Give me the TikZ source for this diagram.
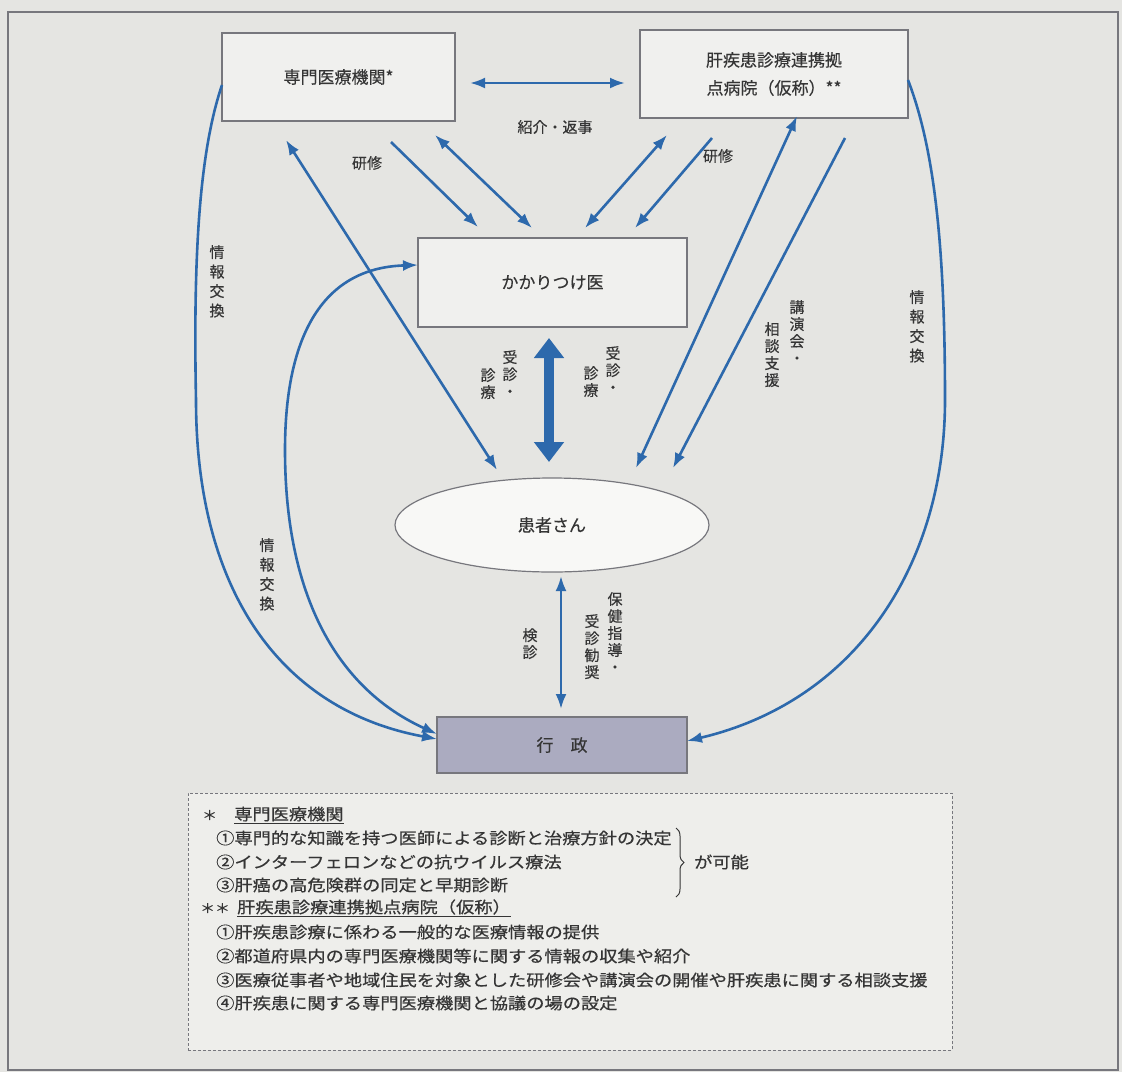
\documentclass[tikz,border=0pt]{standalone}
\usepackage{fontspec}
\newfontfamily\jp{Noto Sans CJK JP}[FakeBold=0.3]
\newfontfamily\jpw{Noto Sans CJK JP}[FakeStretch=1.14,FakeBold=0.5]
\usetikzlibrary{arrows.meta,shapes.geometric,decorations.pathreplacing}
\definecolor{bg}{HTML}{E5E5E2}
\definecolor{boxfill}{HTML}{F0F0EE}
\definecolor{ellfill}{HTML}{F8F8F6}
\definecolor{legfill}{HTML}{EEEEEB}
\definecolor{arrowblue}{HTML}{2D69AC}
\definecolor{edge}{HTML}{77777D}
\definecolor{txt}{HTML}{353535}
\definecolor{gyosei}{HTML}{ABABC0}
\begin{document}
\begin{tikzpicture}[x=1pt,y=-1pt,
  >={Latex[length=15pt,width=11pt]},
  box/.style={draw=edge, line width=1.2pt, fill=boxfill, text=txt,
    font=\jp\fontsize{17}{28}\selectfont, align=center, inner sep=0pt},
  conn/.style={draw=arrowblue, line width=2.6pt, ->},
  dconn/.style={draw=arrowblue, line width=2.6pt, <->},
  bigarrow/.style={draw=arrowblue, line width=10pt,
    {Triangle[length=20pt,width=29pt]}-{Triangle[length=20pt,width=29pt]}},
  lbl/.style={text=txt, font=\jp\fontsize{15}{17}\selectfont, align=center, inner sep=0pt},
  vlbl/.style={lbl, anchor=north},
  vlblw/.style={vlbl, font=\jp\fontsize{15}{19.5}\selectfont},
  leg/.style={text=txt, font=\jpw\fontsize{16}{24}\selectfont, anchor=west, inner sep=0pt},
]
\useasboundingbox (0,0) rectangle (1122,1072);
\fill[bg] (0,0) rectangle (1122,1072);
\draw[edge, line width=1.2pt] (8,12) rectangle (1118,1070);

% main nodes
\node[box, minimum width=233pt, minimum height=88pt] (senmon) at (338.5,77) {専門医療機関*};
\node[box, minimum width=268pt, minimum height=88pt] (kyoten) at (774,74) {肝疾患診療連携拠\\点病院（仮称）**};
\node[box, minimum width=269pt, minimum height=89pt] (kakari) at (552.5,282.5) {かかりつけ医};
\node[ellipse, draw=edge, line width=1.2pt, fill=ellfill, text=txt, inner sep=0pt,
  font=\jp\fontsize{17}{20}\selectfont, minimum width=314pt, minimum height=94pt] (kanja) at (552,525) {患者さん};
\node[box, fill=gyosei, minimum width=250pt, minimum height=56pt] (gyosei) at (562,745) {行\hspace{1em}政};

% connector end points
\coordinate (hA) at (470,83);  \coordinate (hB) at (625,83);
\coordinate (a1s) at (391,142); \coordinate (a1e) at (478,227);
\coordinate (a2s) at (435,135); \coordinate (a2e) at (532,228);
\coordinate (a3s) at (667,135); \coordinate (a3e) at (585,228);
\coordinate (a4s) at (712,138); \coordinate (a4e) at (635,228);
\coordinate (b1s) at (286,140); \coordinate (b1e) at (497,470);
\coordinate (b2s) at (797,116); \coordinate (b2e) at (636,468);
\coordinate (b3s) at (845,138); \coordinate (b3e) at (673,468);
\coordinate (tA) at (549,338); \coordinate (tB) at (549,462);
\coordinate (vA) at (561,576); \coordinate (vB) at (561,709);
\coordinate (cL) at (222,85);  \coordinate (cLe) at (437,739);
\coordinate (cR) at (908,80);  \coordinate (cRe) at (687,741);
\coordinate (cI) at (418,265); \coordinate (cIe) at (437,734);

\draw[dconn] (hA) -- (hB);
\draw[conn] (a1s) -- (a1e);
\draw[dconn] (a2s) -- (a2e);
\draw[dconn] (a3s) -- (a3e);
\draw[conn] (a4s) -- (a4e);
\draw[dconn] (b1s) -- (b1e);
\draw[dconn] (b2s) -- (b2e);
\draw[conn] (b3s) -- (b3e);
\draw[bigarrow] (tA) -- (tB);
\draw[dconn] (vA) -- (vB);

% curved information-exchange connectors
\draw[conn] (cL) .. controls (200,150) and (193,250) .. (196,400)
  .. controls (196,590) and (280,710) .. (cLe);
\draw[conn] (cR) .. controls (935,150) and (945,250) .. (945,400)
  .. controls (945,560) and (860,700) .. (cRe);
\draw[dconn] (cIe) .. controls (340,690) and (285,600) .. (285,450)
  .. controls (285,340) and (320,268) .. (cI);

% labels
\node[lbl] (shokai) at (555,127) {紹介・返事};
\node[lbl] (kenshu1) at (367,163) {研修};
\node[lbl] (kenshu2) at (718,156) {研修};
\node[vlbl] (jA1) at (510,350) {受\\診\\・};
\node[vlbl] (jA2) at (488,368) {診\\療};
\node[vlbl] (jB1) at (613,346) {受\\診\\・};
\node[vlbl] (jB2) at (591,366) {診\\療};
\node[vlbl] (koen1) at (797,300) {講\\演\\会\\・};
\node[vlbl] (koen2) at (772,322) {相\\談\\支\\援};
\node[vlblw] (joho1) at (217,245) {情\\報\\交\\換};
\node[vlblw] (joho2) at (917,290) {情\\報\\交\\換};
\node[vlblw] (joho3) at (267,538) {情\\報\\交\\換};
\node[vlbl] (kenshin) at (530,628) {検\\診};
\node[vlbl] (hoken1) at (615,592) {保\\健\\指\\導\\・};
\node[vlbl] (hoken2) at (592,614) {受\\診\\勧\\奨};

% legend
\node[draw=edge, line width=0.9pt, densely dashed, fill=legfill, minimum width=764pt,
  minimum height=257pt, inner sep=0pt] (legend) at (570,921.5) {};
\node[leg, font=\jpw\fontsize{13}{24}\selectfont] (l0a) at (202,815) {＊};
\node[leg] (l0b) at (234,815) {\underline{専門医療機関}};
\node[leg] (l1) at (216,838) {①専門的な知識を持つ医師による診断と治療方針の決定};
\node[leg] (l2) at (216,862) {②インターフェロンなどの抗ウイルス療法};
\node[leg] (l3) at (216,885) {③肝癌の高危険群の同定と早期診断};
\draw[decorate, decoration={brace, amplitude=8pt}, draw=txt, line width=1pt] (676,828) -- (676,897);
\node[leg] (kano) at (694,862) {が可能};
\node[leg, font=\jpw\fontsize{13}{24}\selectfont] (l4a) at (200,908) {＊＊};
\node[leg] (l4b) at (237,908) {\underline{肝疾患診療連携拠点病院（仮称）}};
\node[leg] (l5) at (216,932) {①肝疾患診療に係わる一般的な医療情報の提供};
\node[leg] (l6) at (216,956) {②都道府県内の専門医療機関等に関する情報の収集や紹介};
\node[leg] (l7) at (216,980) {③医療従事者や地域住民を対象とした研修会や講演会の開催や肝疾患に関する相談支援};
\node[leg] (l8) at (216,1003) {④肝疾患に関する専門医療機関と協議の場の設定};
\end{tikzpicture}
\end{document}
